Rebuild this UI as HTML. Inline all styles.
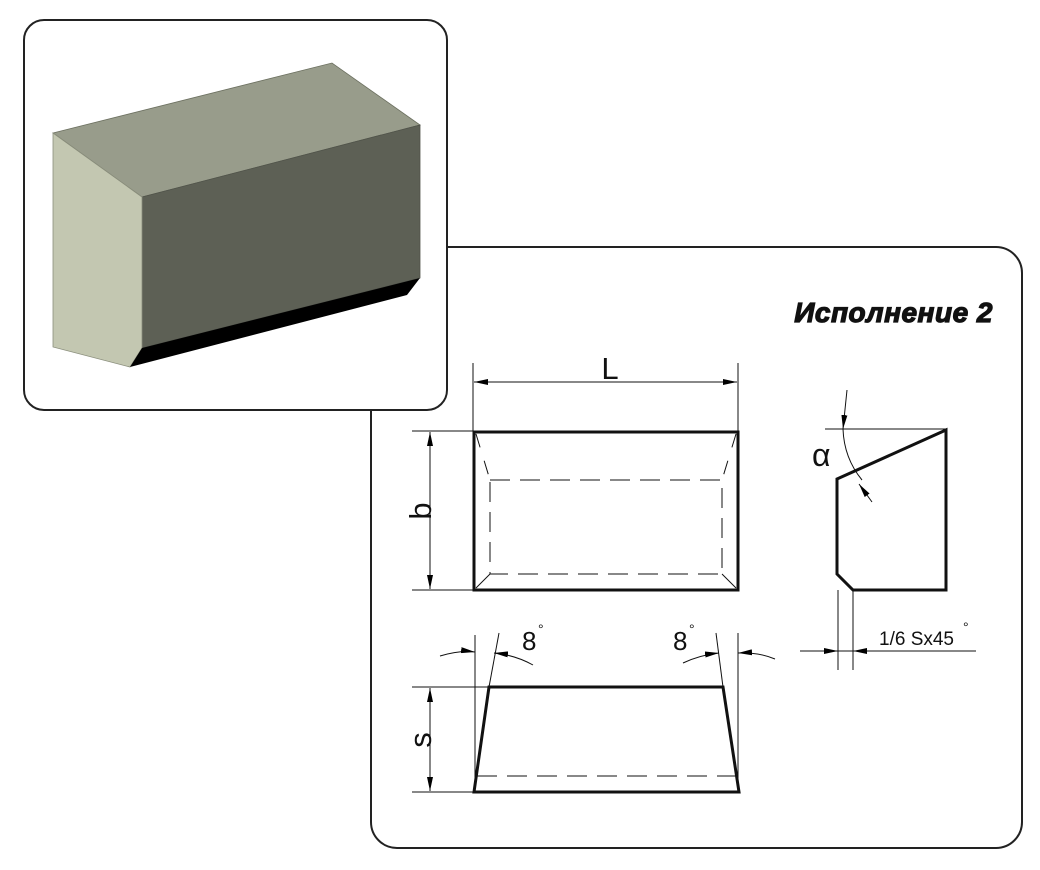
<!DOCTYPE html>
<html><head><meta charset="utf-8"><style>
html,body{margin:0;padding:0;background:#fff;}
svg{display:block;}
text{font-family:"Liberation Sans",sans-serif;fill:#111;}
</style></head><body>
<svg width="1040" height="870" viewBox="0 0 1040 870" xmlns="http://www.w3.org/2000/svg">
<defs>
<marker id="a" viewBox="0 0 14 6" refX="14" refY="3" markerWidth="14" markerHeight="6" markerUnits="userSpaceOnUse" orient="auto-start-reverse"><path d="M0,0 L14,3 L0,6 z" fill="#000"/></marker>
</defs>
<rect x="371" y="247" width="651" height="601" rx="26" fill="#fff" stroke="#222" stroke-width="2"/>
<rect x="24" y="20" width="423" height="390" rx="20" fill="#fff" stroke="#222" stroke-width="2"/>
<polygon points="53,133 332,63 420,125 142,197" fill="#989c8b" stroke="#6c7060" stroke-width="0.8"/>
<polygon points="142,197 420,125 420,278 142,348" fill="#5d6055" stroke="#50534a" stroke-width="0.8"/>
<polygon points="53,133 142,197 142,348 130,367 53,347" fill="#c3c7b1" stroke="#8a8e7c" stroke-width="0.8"/>
<polygon points="142,348 420,278 407,295 130,367" fill="#000"/>

<text x="993" y="322" font-size="28" font-weight="bold" font-style="italic" text-anchor="end" stroke="#111" stroke-width="1.2" letter-spacing="0.5">Исполнение 2</text>

<g stroke="#111" fill="none">
<rect x="474" y="432" width="264" height="158" stroke-width="3"/>
<g stroke-width="1" stroke-dasharray="20,10">
<rect x="490" y="480" width="232" height="94"/>
</g>
<g stroke-width="1">
<line x1="476" y1="434" x2="490" y2="480" stroke-dasharray="14,14"/>
<line x1="736" y1="434" x2="722" y2="480" stroke-dasharray="14,14"/>
<line x1="476" y1="588" x2="490" y2="574"/>
<line x1="736" y1="588" x2="722" y2="574"/>
<line x1="473" y1="363" x2="473" y2="431"/>
<line x1="738" y1="363" x2="738" y2="431"/>
<line x1="474" y1="382" x2="737" y2="382" marker-start="url(#a)" marker-end="url(#a)"/>
<line x1="412" y1="431" x2="473" y2="431"/>
<line x1="412" y1="590" x2="473" y2="590"/>
<line x1="430" y1="432" x2="430" y2="589" marker-start="url(#a)" marker-end="url(#a)"/>
</g>
<polygon points="489,687 723,687 739,792 474,792" stroke-width="3"/>
<line x1="477" y1="776" x2="737" y2="776" stroke-width="1" stroke-dasharray="20,10"/>
<g stroke-width="1">
<line x1="475" y1="635" x2="475" y2="792"/>
<line x1="489" y1="687" x2="499" y2="633"/>
<line x1="738" y1="633" x2="738" y2="792"/>
<line x1="723" y1="687" x2="716" y2="633"/>
<path d="M440,656 Q460,650 475,652" marker-end="url(#a)"/>
<path d="M533,665 Q515,655 494,653" marker-end="url(#a)"/>
<path d="M683,663 Q700,655 719,653" marker-end="url(#a)"/>
<path d="M775,659 Q758,652 738,653" marker-end="url(#a)"/>
<line x1="412" y1="687" x2="489" y2="687"/>
<line x1="412" y1="792" x2="474" y2="792"/>
<line x1="430" y1="688" x2="430" y2="791" marker-start="url(#a)" marker-end="url(#a)"/>
</g>
<polygon points="837,479 946,430 946,590 853,590 837,574" stroke-width="3"/>
<g stroke-width="1">
<line x1="825" y1="429" x2="946" y2="429"/>
<path d="M847,390 L843,429" marker-end="url(#a)"/>
<path d="M843,429 Q844,458 862,480" />
<path d="M872,502 L859,484" marker-end="url(#a)"/>
<line x1="838" y1="590" x2="838" y2="670"/>
<line x1="853" y1="590" x2="853" y2="670"/>
<line x1="800" y1="651" x2="976" y2="651"/>
<line x1="815" y1="651" x2="838" y2="651" marker-end="url(#a)"/>
<line x1="876" y1="651" x2="853" y2="651" marker-end="url(#a)"/>
</g>
</g>
<text x="610" y="379" font-size="31" text-anchor="middle">L</text>
<text x="0" y="0" font-size="31" text-anchor="middle" transform="translate(431,511) rotate(-90)">b</text>
<text x="0" y="0" font-size="31" text-anchor="middle" transform="translate(431,740) rotate(-90)">s</text>
<text x="522" y="650" font-size="26">8</text>
<text x="538" y="634" font-size="14">°</text>
<text x="673" y="650" font-size="26">8</text>
<text x="689" y="634" font-size="14">°</text>
<text x="812" y="466" font-size="32" font-family="Liberation Serif">α</text>
<text x="879" y="645" font-size="19">1/6 Sx45</text>
<text x="963" y="632" font-size="14">°</text>
</svg>
</body></html>
